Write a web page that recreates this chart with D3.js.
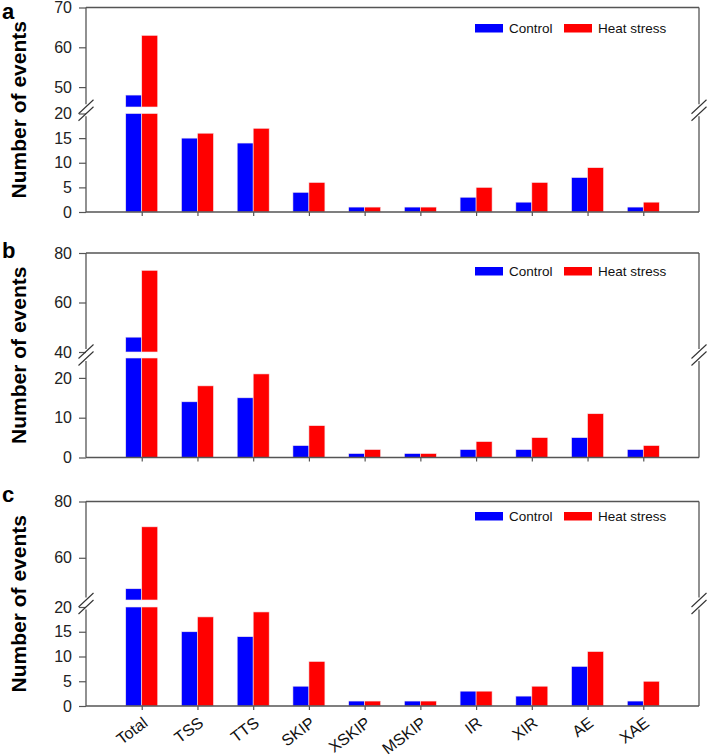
<!DOCTYPE html>
<html>
<head>
<meta charset="utf-8">
<script src="https://cdn.jsdelivr.net/npm/d3@7/dist/d3.min.js"></script>
<style>
  html, body { margin: 0; padding: 0; background: #fff; }
  svg { display: block; font-family: "Liberation Sans", Arial, sans-serif; }
</style>
</head>
<body>
<svg id="chart" width="709" height="756"></svg>
<script>
// ---------------- data ----------------
const categories = ["Total", "TSS", "TTS", "SKIP", "XSKIP", "MSKIP", "IR", "XIR", "AE", "XAE"];
const seriesNames = ["Control", "Heat stress"];

const controlA = [48, 15, 14, 4, 1, 1, 3, 2, 7, 1];
const heatA    = [63, 16, 17, 6, 1, 1, 5, 6, 9, 2];
const controlB = [46, 14, 15, 3, 1, 1, 2, 2, 5, 2];
const heatB    = [73, 18, 21, 8, 2, 1, 4, 5, 11, 3];
const controlC = [49, 15, 14, 4, 1, 1, 3, 2, 8, 1];
const heatC    = [71, 18, 19, 9, 1, 1, 3, 4, 11, 5];

const panelLabels = ["a", "b", "c"];
const lowerDomainA = [0, 20], upperDomainA = [45, 70];
const lowerDomainB = [0, 25], upperDomainB = [40, 80];
const lowerDomainC = [0, 20], upperDomainC = [45, 80];
const lowerTicksA = [0, 5, 10, 15, 20], upperTicksA = [50, 60, 70];
const lowerTicksB = [0, 10, 20],        upperTicksB = [40, 60, 80];
const lowerTicksC = [0, 5, 10, 15, 20], upperTicksC = [60, 80];
const yTitle = "Number of events";

// ---------------- layout ----------------
const colors = ["#0000ff", "#ff0000"];
const axisColor = "#555";
const left = 86, right = 699;
const panels = [
  { label: panelLabels[0], control: controlA, heat: heatA, lowerDom: lowerDomainA, upperDom: upperDomainA,
    lowerTicks: lowerTicksA, upperTicks: upperTicksA,
    top: 7.5, upperBottom: 107, lowerTop: 113.5, bottom: 212, legendY: 28, letterY: 19 },
  { label: panelLabels[1], control: controlB, heat: heatB, lowerDom: lowerDomainB, upperDom: upperDomainB,
    lowerTicks: lowerTicksB, upperTicks: upperTicksB,
    top: 253, upperBottom: 352, lowerTop: 358, bottom: 457.5, legendY: 271, letterY: 258 },
  { label: panelLabels[2], control: controlC, heat: heatC, lowerDom: lowerDomainC, upperDom: upperDomainC,
    lowerTicks: lowerTicksC, upperTicks: upperTicksC,
    top: 501.5, upperBottom: 600, lowerTop: 607, bottom: 706, legendY: 516, letterY: 502, showX: true }
];

const svg = d3.select("#chart");
const x = d3.scalePoint().domain(categories).range([left, right]).padding(1);
const barW = 16;

panels.forEach(p => {
  const g = svg.append("g");
  const yLow = d3.scaleLinear().domain(p.lowerDom).range([p.bottom, p.lowerTop]);
  const yUp = d3.scaleLinear().domain(p.upperDom).range([p.upperBottom, p.top]);
  const lowMax = p.lowerDom[1];

  // bars
  [p.control, p.heat].forEach((vals, si) => {
    const xs = d => x(categories[d]) + (si === 0 ? -barW : 0);
    vals.forEach((v, i) => {
      const lowV = Math.min(v, lowMax);
      g.append("rect")
        .attr("x", xs(i)).attr("width", barW)
        .attr("y", yLow(lowV)).attr("height", yLow(0) - yLow(lowV))
        .attr("fill", colors[si]).attr("stroke", "#f4e8ec").attr("stroke-width", 0.6);
      if (v > p.upperDom[0]) {
        g.append("rect")
          .attr("x", xs(i)).attr("width", barW)
          .attr("y", yUp(v)).attr("height", yUp(p.upperDom[0]) - yUp(v))
          .attr("fill", colors[si]).attr("stroke", "#f4e8ec").attr("stroke-width", 0.6);
      }
    });
  });

  // y axes (left)
  const axL = d3.axisLeft(yLow).tickValues(p.lowerTicks).tickSize(7).tickPadding(7);
  const axU = d3.axisLeft(yUp).tickValues(p.upperTicks).tickSize(7).tickPadding(7);
  [axL, axU].forEach(ax => {
    const a = g.append("g").attr("transform", `translate(${left},0)`).call(ax);
    a.select(".domain").remove();
    a.selectAll(".tick line").attr("stroke", axisColor).attr("stroke-width", 1.2);
    a.selectAll(".tick text").attr("font-size", "16px").attr("fill", "#222")
      .attr("font-family", "Liberation Sans, Arial, sans-serif");
  });

  // frame lines
  const line = (x1, y1, x2, y2) => g.append("line")
    .attr("x1", x1).attr("y1", y1).attr("x2", x2).attr("y2", y2)
    .attr("stroke", axisColor).attr("stroke-width", 1.3);
  const cy = (p.upperBottom + p.lowerTop) / 2;
  [left, right].forEach(ax => {
    line(ax, p.top, ax, cy - 6);
    line(ax, cy + 6, ax, p.bottom);
  });
  line(left, p.top, right, p.top);
  line(left, p.bottom, right, p.bottom);

  // break marks
  [left, right].forEach(ax => {
    [-3.5, 3.5].forEach(off => {
      g.append("line")
        .attr("x1", ax - 7.5).attr("y1", cy + off + 7)
        .attr("x2", ax + 7.5).attr("y2", cy + off - 7)
        .attr("stroke", "#333").attr("stroke-width", 1.1);
    });
  });

  // x axis ticks
  const axB = d3.axisBottom(x).tickSize(4).tickFormat("");
  const b = g.append("g").attr("transform", `translate(0,${p.bottom})`).call(axB);
  b.select(".domain").remove();
  b.selectAll(".tick line").attr("stroke", axisColor).attr("stroke-width", 1.2);

  if (p.showX) {
    g.selectAll(".xlab").data(categories).enter().append("text")
      .attr("transform", d => `translate(${x(d) + 7},${p.bottom + 19}) rotate(-37)`)
      .attr("text-anchor", "end")
      .attr("font-size", "16px").attr("fill", "#111")
      .text(d => d);
  }

  // y title
  g.append("text")
    .attr("transform", `translate(26,${(p.top + p.bottom) / 2}) rotate(-90)`)
    .attr("text-anchor", "middle")
    .attr("font-size", "21px").attr("font-weight", "bold").attr("fill", "#000")
    .text(yTitle);

  // panel letter
  g.append("text").attr("x", 2).attr("y", p.letterY)
    .attr("font-size", "22px").attr("font-weight", "bold").attr("fill", "#000")
    .text(p.label);

  // legend
  const lg = g.append("g").attr("transform", `translate(475,${p.legendY})`);
  const legX = [0, 89];
  seriesNames.forEach((n, i) => {
    lg.append("rect").attr("x", legX[i]).attr("y", -4).attr("width", 28).attr("height", 8.5)
      .attr("fill", colors[i]);
    lg.append("text").attr("x", legX[i] + 34).attr("y", 4.5)
      .attr("font-size", "13.5px").attr("fill", "#111").text(n);
  });
});
</script>
</body>
</html>
